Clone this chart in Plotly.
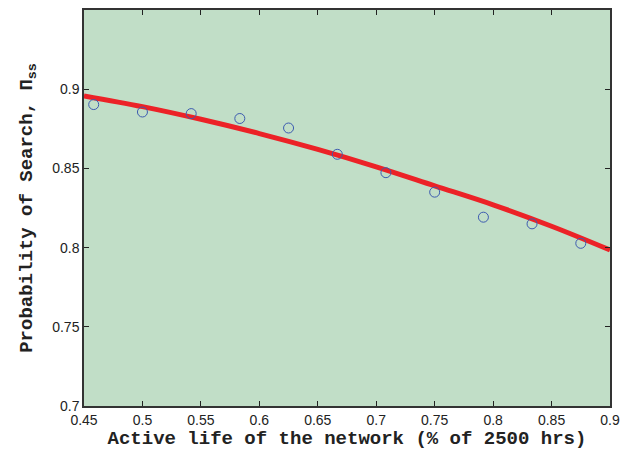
import plotly.graph_objects as go

# measured points (fraction of active life vs. probability of search)
life = [0.4583, 0.5000, 0.5417, 0.5833, 0.6250, 0.6667, 0.7083, 0.7500, 0.7917, 0.8333, 0.8750]
prob = [0.8903, 0.8856, 0.8846, 0.8815, 0.8755, 0.8589, 0.8473, 0.8350, 0.8192, 0.8150, 0.8027]

# fitted curve
fit_x = [0.45, 0.50, 0.55, 0.60, 0.65, 0.70, 0.75, 0.80, 0.85, 0.90]
fit_y = [0.8958, 0.8890, 0.8810, 0.8720, 0.8620, 0.8510, 0.8390, 0.8270, 0.8135, 0.7985]

xticks = [0.45, 0.5, 0.55, 0.6, 0.65, 0.7, 0.75, 0.8, 0.85, 0.9]
yticks = [0.7, 0.75, 0.8, 0.85, 0.9]


def axisLayout(rng, ticks):
    return dict(
        range=rng,
        tickvals=ticks,
        ticktext=[("%g" % t) for t in ticks],
        ticks="inside",
        ticklen=5,
        tickcolor="#222",
        showline=True,
        linecolor="#333",
        linewidth=1.5,
        mirror="ticks",
        showgrid=False,
        zeroline=False,
        automargin=False,
        tickfont=dict(family="Liberation Sans, Arial", size=14, color="#222"),
        fixedrange=True,
    )


fig = go.Figure()

fig.add_trace(go.Scatter(
    x=fit_x, y=fit_y,
    mode="lines",
    line_shape="spline",
    line=dict(color="#ec2227", width=5),
    showlegend=False,
))

fig.add_trace(go.Scatter(
    x=life, y=prob,
    mode="markers",
    marker=dict(symbol="circle-open", size=10, color="#3d5bb0", line=dict(width=1)),
    showlegend=False,
))

xaxis = axisLayout([0.45, 0.9], xticks)
xaxis["title"] = dict(
    text="<b>Active life of the network (% of 2500 hrs)</b>",
    font=dict(family="Liberation Mono, Courier New", size=19, color="#222"),
    standoff=2,
)
yaxis = axisLayout([0.7, 0.95], yticks)
yaxis["title"] = dict(
    text="<b>Probability of Search, \u03a0<sub>ss</sub></b>",
    font=dict(family="Liberation Mono, Courier New", size=19, color="#222"),
    standoff=15,
)

# the page body adds an 8px offset, so the figure is 8px smaller
fig.update_layout(
    width=622,
    height=442,
    margin=dict(l=76, r=20, t=2, b=44),
    paper_bgcolor="white",
    plot_bgcolor="#c1dec7",
    xaxis=xaxis,
    yaxis=yaxis,
)

fig.write_html("out.html")
